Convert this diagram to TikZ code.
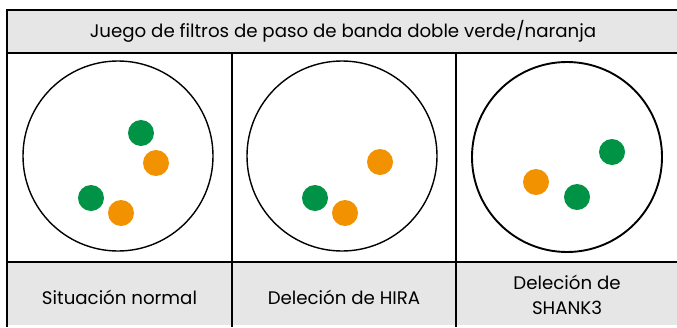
\documentclass[tikz,border=0pt]{standalone}
\usepackage{fontspec}
\setmainfont{Poppins}
\definecolor{dotgreen}{RGB}{0,146,69}
\definecolor{dotorange}{RGB}{243,146,0}
\definecolor{cellgray}{RGB}{230,230,230}
\tikzset{
  grid/.style={draw=black, line width=1.6pt},
  band/.style={fill=cellgray},
  dish/.style={draw=black, line width=1.4pt},
  gdot/.style={circle, fill=dotgreen, inner sep=0pt, minimum size=26pt},
  odot/.style={circle, fill=dotorange, inner sep=0pt, minimum size=26pt},
  lbl/.style={font=\fontsize{18.2}{25}\selectfont, align=center, inner sep=0pt}
}
\begin{document}
\begin{tikzpicture}[x=1pt,y=-1pt]
\useasboundingbox (0,0) rectangle (677,327);
% backgrounds
\fill[band] (7,10) rectangle (677,53);
\fill[band] (7,262) rectangle (677,325);
% grid
\draw[grid] (677,10) -- (7,10) -- (7,327);
\draw[grid] (7,53) -- (677,53);
\draw[grid] (7,262) -- (677,262);
\draw[grid] (232,53) -- (232,327);
\draw[grid] (456,53) -- (456,327);
% header
\node[lbl] (title) at (343,31) {Juego de filtros de paso de banda doble verde/naranja};
% dishes
\node[dish, circle, minimum size=190pt, inner sep=0pt] (d1) at (118,156) {};
\node[dish, circle, minimum size=190pt, inner sep=0pt] (d2) at (342,156) {};
\node[dish, circle, minimum size=190pt, inner sep=0pt, line width=1.9pt] (d3) at (567,157) {};
% dots col 1
\node[gdot] (g11) at (141,133) {};
\node[odot] (o11) at (156,163) {};
\node[gdot] (g12) at (91,198) {};
\node[odot] (o12) at (121,213) {};
% dots col 2
\node[odot] (o21) at (380,162) {};
\node[gdot] (g22) at (315,198) {};
\node[odot] (o22) at (345,213) {};
% dots col 3
\node[gdot] (g31) at (612,152) {};
\node[odot] (o31) at (536,182) {};
\node[gdot] (g32) at (577,197) {};
% labels
\node[lbl] (l1) at (119.5,297) {Situación normal};
\node[lbl] (l2) at (344,297) {Deleción de HIRA};
\node[lbl] (l3) at (567,295) {Deleción de\\SHANK3};
\end{tikzpicture}
\end{document}
